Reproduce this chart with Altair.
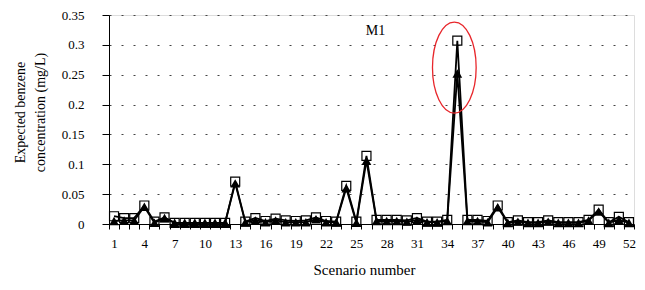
import altair as alt
import pandas as pd

# ---- data ----
scenarios = list(range(1, 53))

square_values = [
    0.013, 0.010, 0.010, 0.031, 0.004, 0.011, 0.002, 0.002, 0.002, 0.002,
    0.002, 0.002, 0.071, 0.004, 0.010, 0.005, 0.009, 0.006, 0.005, 0.006,
    0.011, 0.005, 0.004, 0.064, 0.004, 0.114, 0.007, 0.007, 0.007, 0.006,
    0.010, 0.004, 0.004, 0.007, 0.307, 0.007, 0.007, 0.005, 0.031, 0.003,
    0.006, 0.003, 0.003, 0.006, 0.003, 0.003, 0.003, 0.007, 0.024, 0.003,
    0.012, 0.003,
]

triangle_values = [
    0.005, 0.006, 0.006, 0.029, 0.002, 0.010, 0.002, 0.002, 0.002, 0.002,
    0.002, 0.002, 0.068, 0.003, 0.006, 0.003, 0.006, 0.003, 0.003, 0.003,
    0.008, 0.003, 0.003, 0.060, 0.002, 0.106, 0.005, 0.005, 0.005, 0.004,
    0.006, 0.003, 0.003, 0.005, 0.252, 0.005, 0.005, 0.003, 0.028, 0.002,
    0.004, 0.002, 0.002, 0.004, 0.002, 0.002, 0.002, 0.006, 0.021, 0.002,
    0.007, 0.002,
]

y_ticks = [0, 0.05, 0.1, 0.15, 0.2, 0.25, 0.3, 0.35]

annotation_label = ["M1"]
annotation_x = [26]
annotation_y = [0.323]

highlight_x = [35]
highlight_y = [0.262]

x_title = "Scenario number"
y_title = ["Expected benzene", "concentration (mg/L)"]

FONT = "Liberation Serif"

df_sq = pd.DataFrame({"scenario": scenarios, "value": square_values})
df_tri = pd.DataFrame({"scenario": scenarios, "value": triangle_values})
df_txt = pd.DataFrame({"scenario": annotation_x, "value": annotation_y, "label": annotation_label})
df_ell = pd.DataFrame({"scenario": highlight_x, "value": highlight_y})

x_enc = alt.X(
    "scenario:O",
    sort=scenarios,
    scale=alt.Scale(type="band", paddingInner=0, paddingOuter=0, domain=scenarios),
    axis=alt.Axis(
        title=x_title,
        labelExpr="(datum.value - 1) % 3 == 0 ? datum.label : ''",
        labelAngle=0,
        labelOverlap=False,
        tickBand="extent",
        tickSize=5,
        tickColor="black",
        domainColor="black",
        domainWidth=1,
        labelFont=FONT,
        labelFontSize=13,
        labelColor="black",
        labelPadding=8,
        titleFont=FONT,
        titleFontSize=15,
        titleFontWeight="normal",
        titleColor="black",
        titleX=255,
        titleY=50,
        titleAlign="center",
        titleBaseline="alphabetic",
        grid=False,
    ),
)

y_enc = alt.Y(
    "value:Q",
    scale=alt.Scale(domain=[0, 0.35], nice=False),
    axis=alt.Axis(
        title=y_title,
        values=y_ticks,
        format="~g",
        grid=True,
        gridDash=[2, 10],
        gridColor="#444",
        gridWidth=1,
        tickSize=7,
        tickColor="black",
        domainColor="black",
        labelFont=FONT,
        labelFontSize=13,
        labelColor="black",
        labelPadding=18,
        titleFont=FONT,
        titleFontSize=14,
        titleFontWeight="normal",
        titleColor="black",
        titleX=-96,
        titleY=97,
        titleAngle=270,
        titleAlign="center",
        titleBaseline="top",
        titleLineHeight=20,
    ),
)

sq_line = alt.Chart(df_sq).mark_line(color="black", strokeWidth=1.8).encode(x=x_enc, y=y_enc)
sq_pts = alt.Chart(df_sq).mark_point(
    shape="square", size=81, filled=False, color="black", strokeWidth=1.2, opacity=1
).encode(x=x_enc, y=y_enc)
tri_line = alt.Chart(df_tri).mark_line(color="black", strokeWidth=1.8).encode(x=x_enc, y=y_enc)
tri_pts = alt.Chart(df_tri).mark_point(
    shape="triangle-up", size=95, filled=True, color="black", opacity=1
).encode(x=x_enc, y=y_enc)

txt = alt.Chart(df_txt).mark_text(
    font=FONT, fontSize=14, color="black", baseline="middle", align="center", dx=9
).encode(x=x_enc, y=y_enc, text="label:N")

ellipse_path = "M -0.48 0 A 0.48 1 0 1 1 0.48 0 A 0.48 1 0 1 1 -0.48 0 Z"
ell = alt.Chart(df_ell).mark_point(
    shape=ellipse_path, size=8281, filled=False, color="#e8262b", strokeWidth=1.3,
    opacity=1, xOffset=-3
).encode(x=x_enc, y=y_enc)

chart = alt.layer(sq_line, tri_line, sq_pts, tri_pts, txt, ell).properties(
    width=525,
    height=209,
    padding={"left": 101, "top": 7, "right": 3, "bottom": 52},
    autosize="none",
).configure_view(stroke=None).configure(background="white")

chart.save("out.html", embed_options={"renderer": "svg", "actions": False})
